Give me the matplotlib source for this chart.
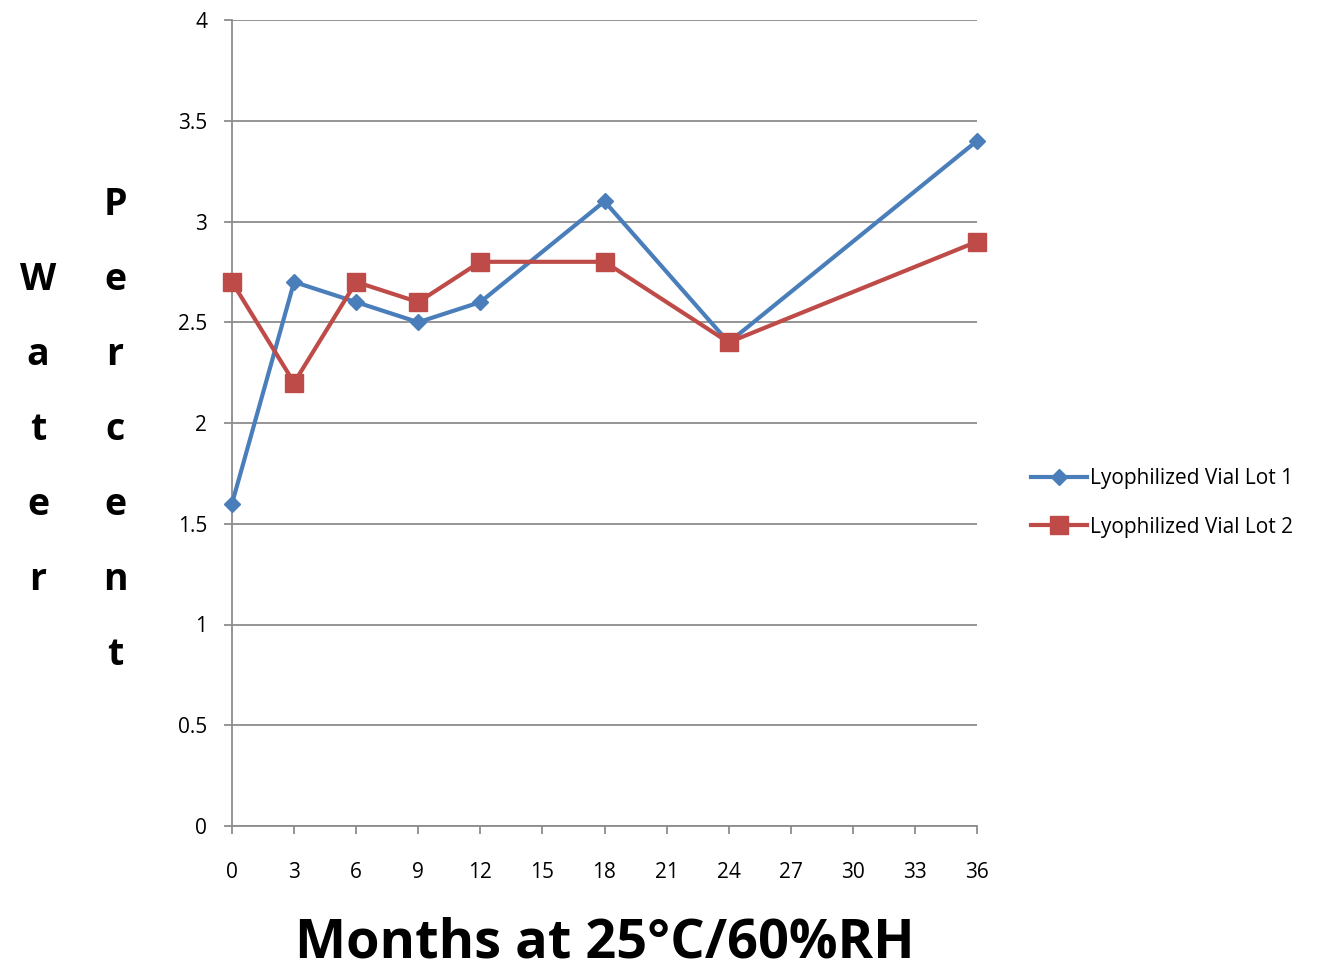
import matplotlib
matplotlib.use('Agg')
import matplotlib.pyplot as plt
from matplotlib.lines import Line2D

months = [0, 3, 6, 9, 12, 18, 24, 36]
lot1 = [1.6, 2.7, 2.6, 2.5, 2.6, 3.1, 2.4, 3.4]
lot2 = [2.7, 2.2, 2.7, 2.6, 2.8, 2.8, 2.4, 2.9]
series_names = ['Lyophilized Vial Lot 1', 'Lyophilized Vial Lot 2']
x_ticks = list(range(0, 37, 3))
y_ticks = [0, 0.5, 1, 1.5, 2, 2.5, 3, 3.5, 4]
y_tick_labels = ['0', '0.5', '1', '1.5', '2', '2.5', '3', '3.5', '4']

plt.rcParams['font.family'] = ['Open Sans', 'DejaVu Sans']

fig = plt.figure(figsize=(13.2, 9.74), dpi=100)
ax = fig.add_axes([232 / 1320, 1 - 826 / 974, (977 - 232) / 1320, (826 - 20) / 974])

blue = '#4A7EBB'
red = '#BE4B48'

ax.plot(months, lot1, color=blue, lw=3, marker='D', markersize=8, label=series_names[0], zorder=3, clip_on=False)
ax.plot(months, lot2, color=red, lw=3, marker='s', markersize=13, label=series_names[1], zorder=3, clip_on=False)

ax.set_xlim(0, 36)
ax.set_ylim(0, 4)
ax.set_xticks(x_ticks)
ax.set_yticks(y_ticks)
ax.set_yticklabels(y_tick_labels)
ax.yaxis.grid(True, color='#8C8C8C', lw=1.3)
ax.set_axisbelow(True)
for s in ['top', 'right']:
    ax.spines[s].set_visible(False)
for s in ['left', 'bottom']:
    ax.spines[s].set_color('#8C8C8C')
    ax.spines[s].set_linewidth(1.3)
ax.tick_params(axis='both', colors='#8C8C8C', length=6, width=1.3, labelsize=15, labelcolor='black')
ax.tick_params(axis='x', pad=20)
ax.tick_params(axis='y', pad=12)

# x axis title
fig.text((297 + 912) / 2 / 1320, 1 - 943 / 974, 'Months at 25\u00b0C/60%RH', ha='center', va='center',
         fontsize=39, fontweight='bold')

# stacked y label letters
for i, ch in enumerate('Water'):
    fig.text(38 / 1320, 1 - (280 + 75 * i) / 974, ch, ha='center', va='center', fontsize=27, fontweight='bold')
for i, ch in enumerate('Percent'):
    fig.text(115 / 1320, 1 - (205 + 75 * i) / 974, ch, ha='center', va='center', fontsize=27, fontweight='bold')

handles = [Line2D([], [], color=blue, lw=3, marker='D', markersize=8),
           Line2D([], [], color=red, lw=3, marker='s', markersize=13)]
fig.legend(handles, series_names, loc='center left', bbox_to_anchor=(1012 / 1320, 1 - 503 / 974),
           frameon=False, fontsize=15, handlelength=2.7, handletextpad=0.15, labelspacing=1.3)

fig.savefig('out.png', dpi=100)
